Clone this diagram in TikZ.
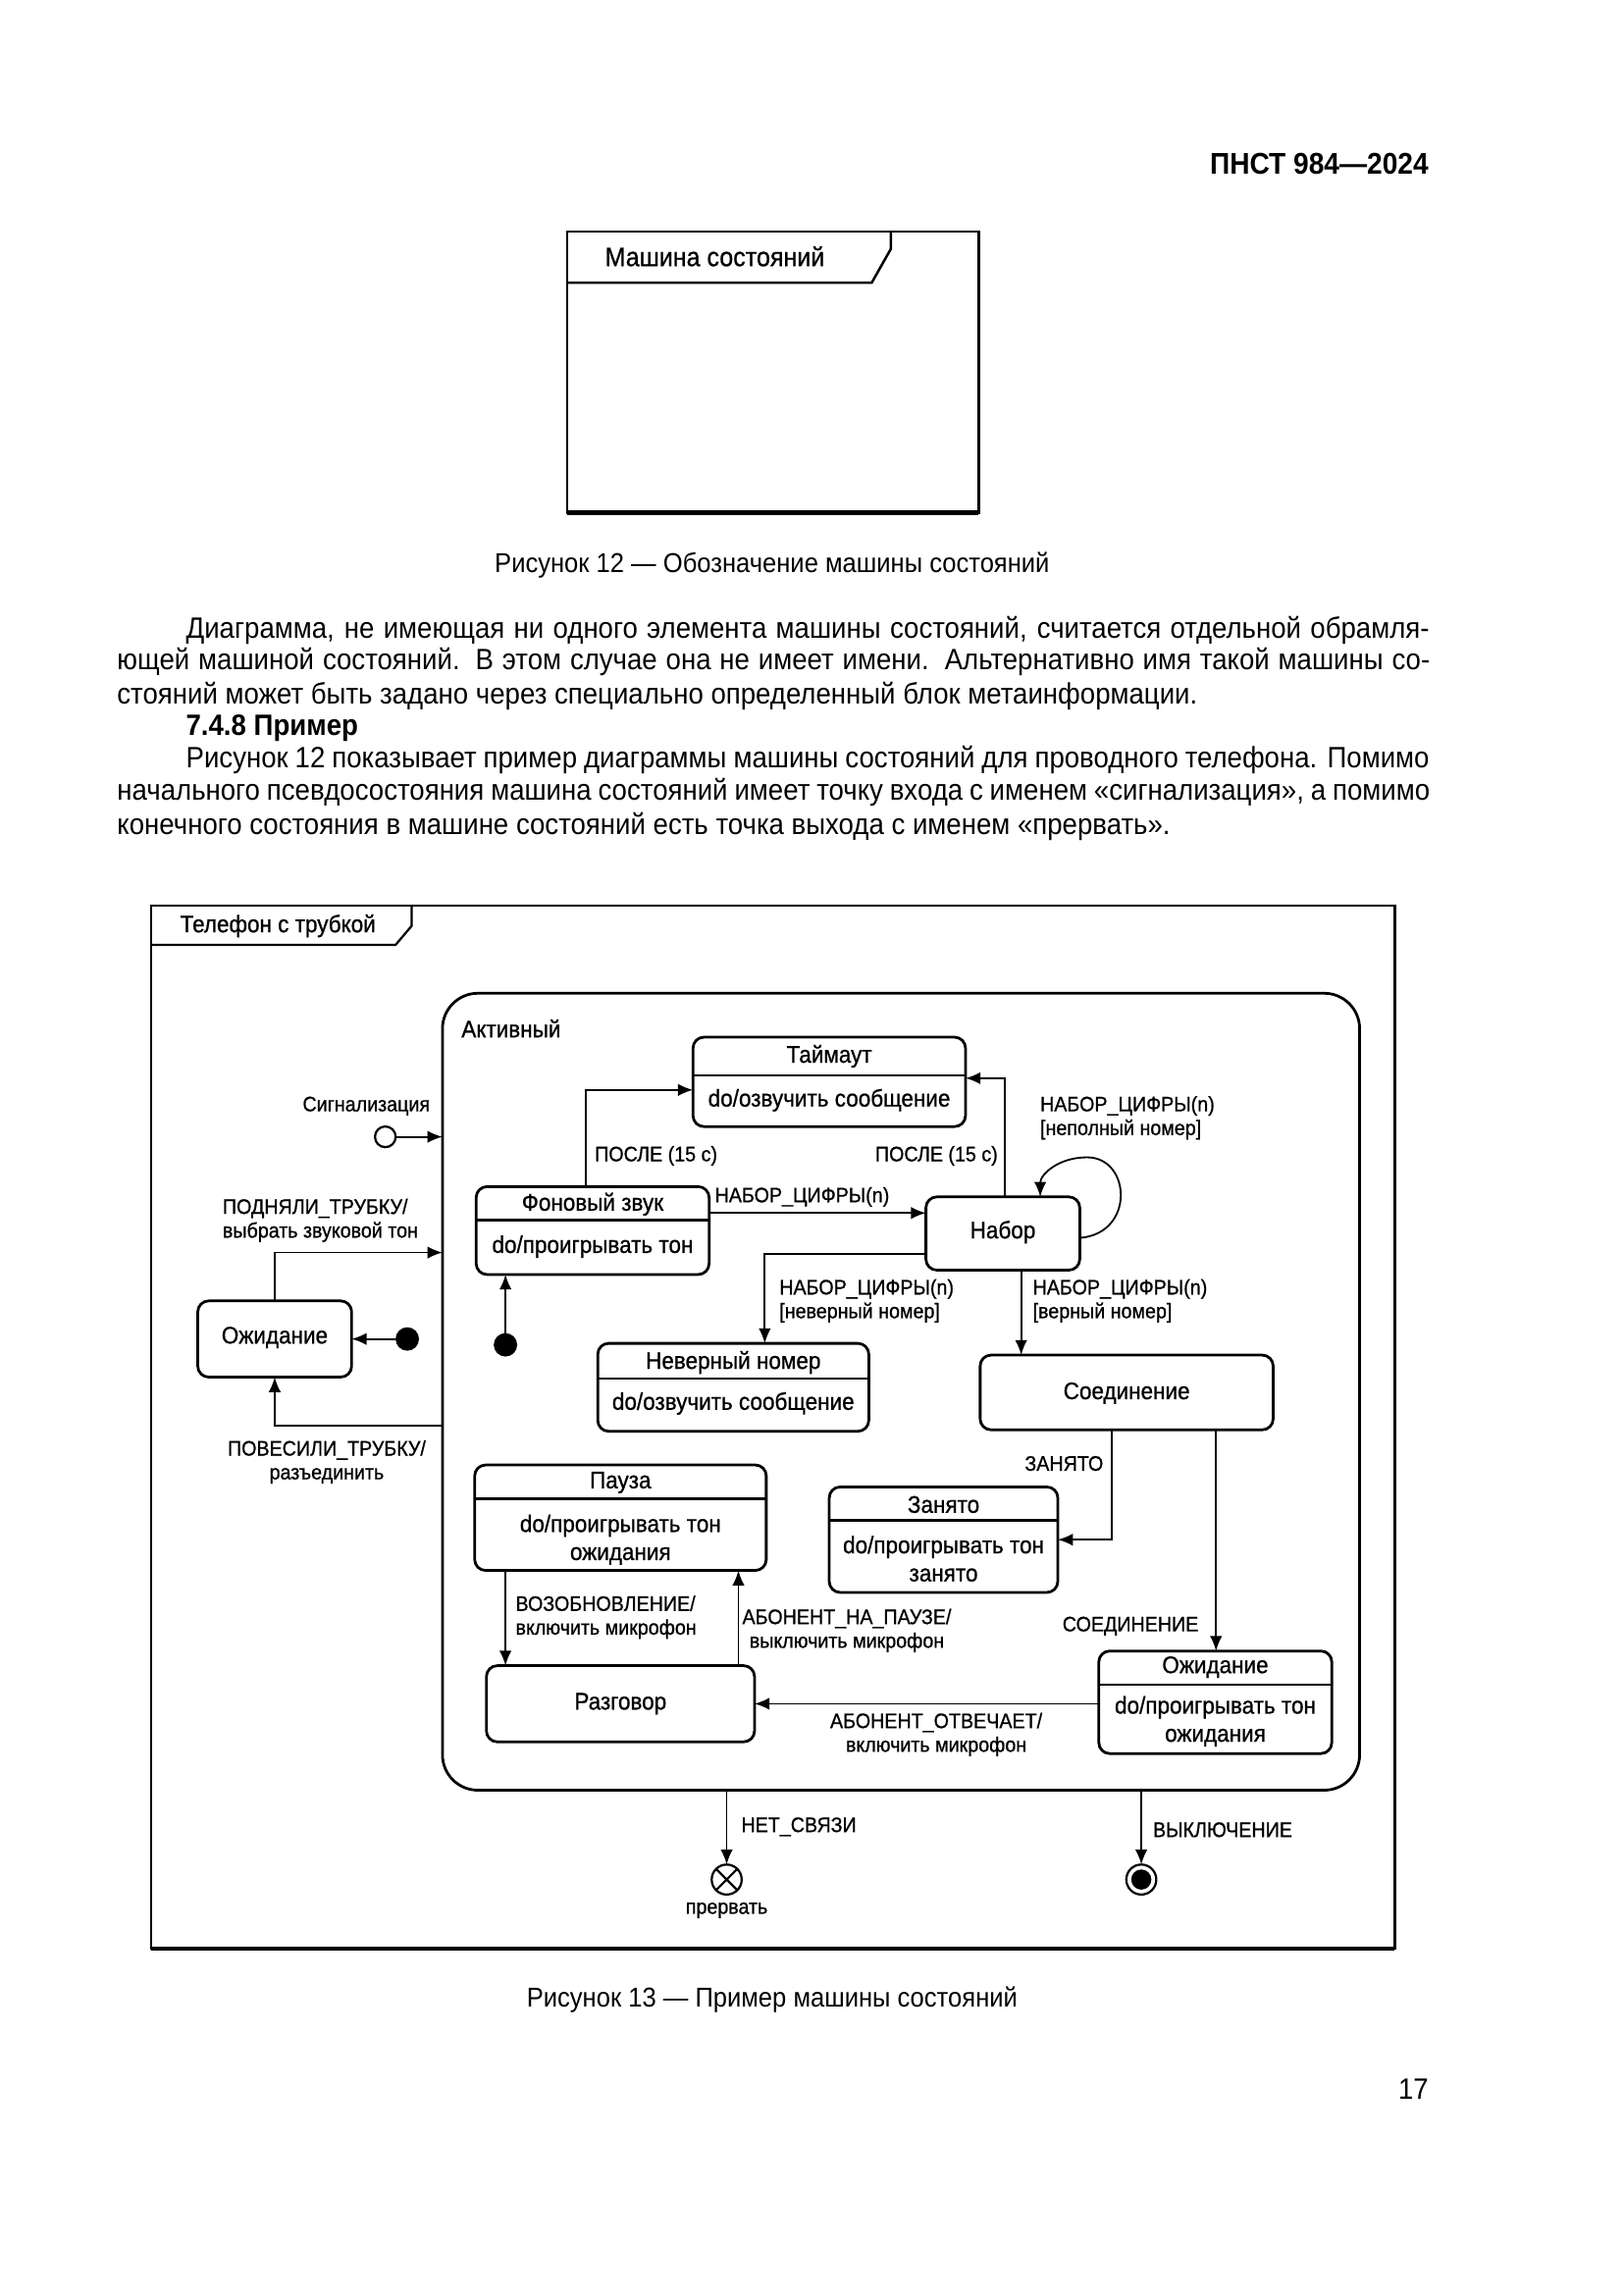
\documentclass[tikz,border=0pt]{standalone}
\usepackage{fontspec}
\setmainfont[FakeStretch=0.92]{Liberation Sans}
\newfontfamily\dfont[FakeStretch=0.92,FakeBold=0.8]{Liberation Sans}
\usetikzlibrary{arrows.meta,fit}
\newcommand\jspace{\spaceskip=0.22em plus 1em minus 0.02em\relax}
\begin{document}
\begin{tikzpicture}[x=0.5374pt,y=-0.5374pt,
  every node/.style={inner sep=0pt, outer sep=0pt},
  body/.style={anchor=west, font=\fontsize{10.8}{12}\selectfont},
  capt/.style={font=\fontsize{10}{12}\selectfont},
  st/.style={draw, line width=1pt, rounded corners=4pt, inner sep=0pt},
  sname/.style={font=\dfont\fontsize{8.8}{10.3}\selectfont},
  lab/.style={font=\dfont\fontsize{7.7}{8.7}\selectfont, align=left},
  labc/.style={font=\dfont\fontsize{7.7}{8.7}\selectfont, align=center},
  tr/.style={line width=0.65pt, -{Latex[length=5.5pt,width=4.5pt]}},
  dot/.style={circle, fill, inner sep=0pt, minimum size=8.6pt}]
\useasboundingbox (0,0) rectangle (1107.8,1566.6);
% header
\node[anchor=east, font=\bfseries\fontsize{11}{13}\selectfont] (hdr) at (975,112) {ПНСТ 984—2024};
% Figure 12
\draw[line width=0.9pt] (387,158) rectangle (668,350);
\draw[line width=1.6pt] (387,350) -- (668,350);
\draw[line width=0.9pt] (387,193) -- (595,193) -- (608,170) -- (608,158);
\node[anchor=west, font=\dfont\fontsize{9.8}{12}\selectfont] (f12t) at (413,175) {Машина состояний};
\node[capt] (cap12) at (527,386) {Рисунок 12 — Обозначение машины состояний};
% paragraph
\node[body] (p1) at (127,430) {\makebox[456pt][s]{\jspace Диаграмма, не имеющая ни одного элемента машины состояний, считается отдельной обрамля-}};
\node[body] (p2) at (80,452) {\makebox[481.5pt][s]{\jspace ющей машиной состояний. В этом случае она не имеет имени. Альтернативно имя такой машины со-}};
\node[body] (p3) at (80,475) {стояний может быть задано через специально определенный блок метаинформации.};
\node[body, font=\bfseries\fontsize{10.8}{12}\selectfont] (p4) at (127,497) {7.4.8 Пример};
\node[body] (p5) at (127,519) {\makebox[456pt][s]{\jspace Рисунок 12 показывает пример диаграммы машины состояний для проводного телефона. Помимо}};
\node[body] (p6) at (80,541) {\makebox[481.5pt][s]{\jspace начального псевдосостояния машина состояний имеет точку входа с именем «сигнализация», а помимо}};
\node[body] (p7) at (80,564) {конечного состояния в машине состояний есть точка выхода с именем «прервать».};
% Figure 13 frame
\draw[line width=0.8pt] (103,618) rectangle (952,1330);
\draw[line width=1.5pt] (103,1330) -- (952,1330);
\draw[line width=0.8pt] (103,645) -- (270,645) -- (281,632) -- (281,618);
\node[anchor=west, font=\dfont\fontsize{8.8}{10}\selectfont] (f13t) at (123,632) {Телефон с трубкой};
% Active composite state
\node[draw, line width=1pt, rounded corners=13pt, fit={(302,678)(928,1222)}, inner sep=0pt] (act) {};
\node[anchor=west, sname] (actl) at (315,702) {Активный};
% states
\node[st, fit={(473,708)(659,769)}] (tmo) {};
\draw[line width=1pt] (473,734) -- (659,734);
\node[sname] (tmo1) at (566,721) {Таймаут};
\node[sname] (tmo2) at (566,751) {do/озвучить сообщение};

\node[st, fit={(325,810)(484,870)}] (bg) {};
\draw[line width=1pt] (325,833) -- (484,833);
\node[sname] (bg1) at (404.5,822) {Фоновый звук};
\node[sname] (bg2) at (404.5,851) {do/проигрывать тон};

\node[st, fit={(632,817)(737,867)}] (nab) {};
\node[sname] (nab1) at (684.5,841) {Набор};

\node[st, fit={(408,917)(593,977)}] (nev) {};
\draw[line width=1pt] (408,941) -- (593,941);
\node[sname] (nev1) at (500.5,930) {Неверный номер};
\node[sname] (nev2) at (500.5,958) {do/озвучить сообщение};

\node[st, fit={(669,925)(869,976)}] (con) {};
\node[sname] (con1) at (769,951) {Соединение};

\node[st, fit={(135,888)(240,940)}] (idle) {};
\node[sname] (idle1) at (187.5,913) {Ожидание};

\node[st, fit={(324,1000)(523,1072)}] (pau) {};
\draw[line width=1pt] (324,1023) -- (523,1023);
\node[sname] (pau1) at (423.5,1012) {Пауза};
\node[sname, align=center] (pau2) at (423.5,1051) {do/проигрывать тон\\ожидания};

\node[st, fit={(566,1015)(722,1087)}] (bus) {};
\draw[line width=1pt] (566,1038) -- (722,1038);
\node[sname] (bus1) at (644,1027) {Занято};
\node[sname, align=center] (bus2) at (644,1064) {do/проигрывать тон\\занято};

\node[st, fit={(750,1127)(909,1197)}] (wait) {};
\draw[line width=1pt] (750,1150) -- (909,1150);
\node[sname] (wait1) at (829.5,1138) {Ожидание};
\node[sname, align=center] (wait2) at (829.5,1175) {do/проигрывать тон\\ожидания};

\node[st, fit={(332,1137)(515,1189)}] (talk) {};
\node[sname] (talk1) at (423.5,1163) {Разговор};

% pseudostates
\node[circle, draw, line width=0.8pt, minimum size=7.6pt] (sig) at (263,776) {};
\node[dot] (ini1) at (345,918) {};
\node[dot] (ini2) at (278,914) {};
\node[circle, draw, line width=0.8pt, minimum size=11pt] (ext) at (496,1283) {};
\draw[line width=0.8pt] (ext.north east) -- (ext.south west) (ext.north west) -- (ext.south east);
\node[circle, draw, line width=0.8pt, minimum size=11pt] (fin) at (779,1283) {};
\node[circle, fill, minimum size=7.4pt] (finc) at (fin) {};

% transitions
\draw[tr] (sig) -- (act.west |- sig);
\draw[tr] (idle.north) |- (act.west |- 0,855);
\draw[tr] (act.west |- 0,973) -| (idle.south);
\draw[tr] (ini2) -- (idle.east);
\draw[tr] (ini1) -- (bg.south -| ini1);
\draw[tr] (bg.north -| 400,0) |- (tmo.west |- 0,744);
\draw[tr] (nab.north -| 686,0) |- (tmo.east |- 0,736);
\draw[tr] (bg.east |- 0,828) -- (nab.west |- 0,828);
\draw[tr] (nab.east |- 0,845) .. controls (775,842) and (772,790) .. (742,790) .. controls (722,790) and (710,802) .. (nab.north -| 710,0);
\draw[tr] (nab.west |- 0,856) -| (nev.north -| 522,0);
\draw[tr] (nab.south -| 697,0) -- (con.north -| 697,0);
\draw[tr] (con.south -| 759,0) |- (bus.east |- 0,1051);
\draw[tr] (con.south -| 830,0) -- (wait.north -| 830,0);
\draw[tr] (wait.west |- 0,1163) -- (talk.east |- 0,1163);
\draw[tr] (pau.south -| 345,0) -- (talk.north -| 345,0);
\draw[tr] (talk.north -| 504,0) -- (pau.south -| 504,0);
\draw[tr] (act.south -| 496,0) -- (ext.north);
\draw[tr] (act.south -| 779,0) -- (fin.north);

% labels
\node[labc] (lsig) at (250,755) {Сигнализация};
\node[lab, anchor=west] (lup) at (152,833) {ПОДНЯЛИ\_ТРУБКУ/\\выбрать звуковой тон};
\node[lab, anchor=west] (lpos1) at (406,789) {ПОСЛЕ (15 с)};
\node[lab, anchor=west] (ln1) at (488,817) {НАБОР\_ЦИФРЫ(n)};
\node[lab, anchor=west] (ln2) at (710,763) {НАБОР\_ЦИФРЫ(n)\\{[}неполный номер{]}};
\node[lab, anchor=east] (lpos2) at (681,789) {ПОСЛЕ (15 с)};
\node[lab, anchor=west] (ln3) at (532,888) {НАБОР\_ЦИФРЫ(n)\\{[}неверный номер{]}};
\node[lab, anchor=west] (ln4) at (705,888) {НАБОР\_ЦИФРЫ(n)\\{[}верный номер{]}};
\node[labc] (ldown) at (223,998) {ПОВЕСИЛИ\_ТРУБКУ/\\разъединить};
\node[lab, anchor=east] (lbusy) at (753,999) {ЗАНЯТО};
\node[lab, anchor=east] (lcon) at (818,1110) {СОЕДИНЕНИЕ};
\node[lab, anchor=west] (lres) at (352,1104) {ВОЗОБНОВЛЕНИЕ/\\включить микрофон};
\node[labc] (lpau) at (578,1113) {АБОНЕНТ\_НА\_ПАУЗЕ/\\выключить микрофон};
\node[labc] (lans) at (639,1184) {АБОНЕНТ\_ОТВЕЧАЕТ/\\включить микрофон};
\node[lab, anchor=west] (lnet) at (506,1247) {НЕТ\_СВЯЗИ};
\node[labc] (lbrk) at (496,1304) {прервать};
\node[lab, anchor=west] (loff) at (787,1249) {ВЫКЛЮЧЕНИЕ};
\node[capt] (cap13) at (527,1365) {Рисунок 13 — Пример машины состояний};
\node[anchor=east, font=\fontsize{10.8}{12}\selectfont] (pg) at (975,1426) {17};
\end{tikzpicture}
\end{document}
